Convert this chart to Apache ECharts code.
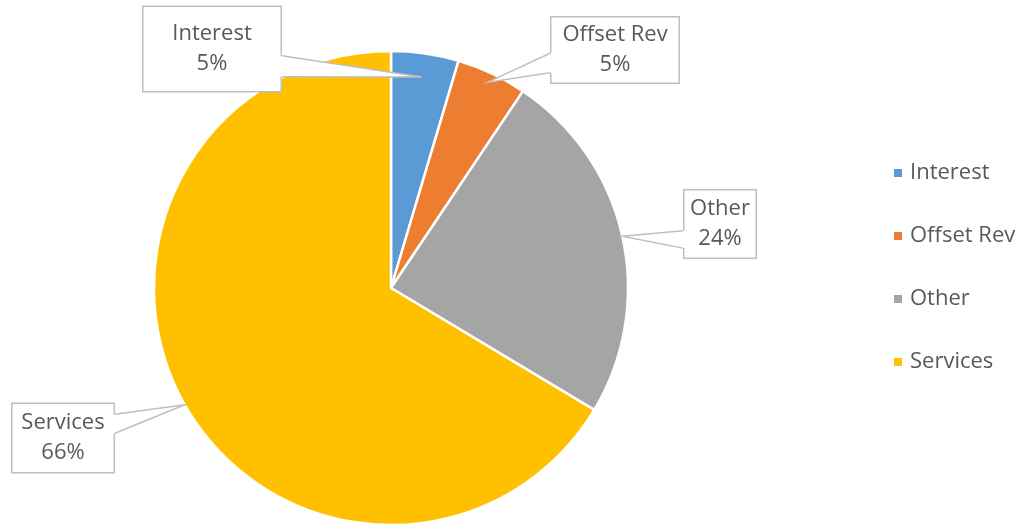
<!DOCTYPE html>
<html>
<head>
<meta charset="utf-8">
<script src="https://cdn.jsdelivr.net/npm/echarts@6/dist/echarts.min.js"></script>
<style>
html,body{margin:0;padding:0;background:#fff;}
#chart{width:1019px;height:525px;}
</style>
</head>
<body>
<div id="chart"></div>
<script>
// Data
var categories = ['Interest', 'Offset Rev', 'Other', 'Services'];
var values = [4.6, 4.8, 24.2, 66.4];
var colors = ['#5B9BD5', '#ED7D31', '#A5A5A5', '#FFC000'];

// Layout / style settings (kept apart from data)
var PIE_CENTER = [391, 288];
var PIE_RADIUS = 237;
var LINE_H = 30;
var FONT = 'Open Sans';
var TEXT_COLOR = '#595959';
var BOX_COLOR = '#bfbfbf';
// callout boxes: centre, size, pointer base side & fractions, pointer tip radius factor
var calloutBoxes = {
  'Interest':   {cx: 212, cy: 49,  w: 140, h: 84, side: 'right', f0: 0.58, f1: 0.83, k: 0.90},
  'Offset Rev': {cx: 615, cy: 50,  w: 130, h: 65, side: 'left',  f0: 0.55, f1: 0.85, k: 0.96},
  'Other':      {cx: 720, cy: 224, w: 74,  h: 67, side: 'left',  f0: 0.60, f1: 0.86, k: 1.00},
  'Services':   {cx: 63,  cy: 438, w: 104, h: 68, side: 'right', f0: 0.15, f1: 0.43, k: 1.00}
};

var total = values.reduce(function (a, b) { return a + b; }, 0);
function midAngle(i) {
  var cum = 0;
  for (var j = 0; j < i; j++) cum += values[j];
  return (cum + values[i] / 2) / total * Math.PI * 2; // clockwise from top
}

var chart = echarts.init(document.getElementById('chart'), null, {renderer: 'canvas'});

var seriesData = categories.map(function (name, i) {
  var b = calloutBoxes[name];
  var padV = (b.h - 2 * LINE_H) / 2;
  return {
    name: name,
    value: values[i],
    itemStyle: {color: colors[i]},
    label: {width: b.w - 3, padding: [padV, 0, padV, 0]}
  };
});

function renderPointer(params, api) {
  var i = params.dataIndex;
  var b = calloutBoxes[categories[i]];
  var th = midAngle(i);
  var r = PIE_RADIUS * b.k;
  var tip = [PIE_CENTER[0] + r * Math.sin(th), PIE_CENTER[1] - r * Math.cos(th)];
  var top = b.cy - b.h / 2;
  var xEdge = b.side === 'right' ? b.cx + b.w / 2 : b.cx - b.w / 2;
  var inward = b.side === 'right' ? -2 : 2;
  var y0 = top + b.h * b.f0, y1 = top + b.h * b.f1;
  var pA = [xEdge, y0], pB = [xEdge, y1];
  return {
    type: 'group',
    children: [
      {type: 'polygon', shape: {points: [tip, pA, [xEdge + inward, y0], [xEdge + inward, y1], pB]},
       style: {fill: '#ffffff', stroke: null}},
      {type: 'polyline', shape: {points: [pA, tip, pB]},
       style: {fill: null, stroke: BOX_COLOR, lineWidth: 1.5}}
    ]
  };
}

var option = {
  backgroundColor: '#ffffff',
  animation: false,
  legend: {
    orient: 'vertical',
    left: 887,
    top: 157,
    itemWidth: 10,
    itemHeight: 10,
    itemGap: 41,
    icon: 'rect',
    data: categories,
    textStyle: {
      fontFamily: FONT,
      fontSize: 22,
      color: TEXT_COLOR,
      lineHeight: 21,
      padding: [0, 0, 0, 2]
    }
  },
  series: [{
    type: 'pie',
    z: 2,
    center: PIE_CENTER,
    radius: PIE_RADIUS,
    startAngle: 90,
    clockwise: true,
    data: seriesData,
    itemStyle: {borderColor: '#ffffff', borderWidth: 2.5},
    label: {
      show: true,
      position: 'outside',
      formatter: function (p) { return p.name + '\n' + Math.round(p.percent) + '%'; },
      fontFamily: FONT,
      fontSize: 22,
      color: TEXT_COLOR,
      lineHeight: LINE_H,
      align: 'center',
      backgroundColor: '#ffffff',
      borderColor: BOX_COLOR,
      borderWidth: 1.5
    },
    labelLine: {show: false},
    labelLayout: function (params) {
      var b = calloutBoxes[categories[params.dataIndex]];
      return {x: b.cx, y: b.cy, align: 'center', verticalAlign: 'middle'};
    },
    emphasis: {disabled: true}
  }, {
    type: 'custom',
    z: 5,
    coordinateSystem: 'none',
    silent: true,
    data: values.map(function (v) { return [v]; }),
    renderItem: renderPointer
  }]
};
chart.setOption(option);
</script>
</body>
</html>
